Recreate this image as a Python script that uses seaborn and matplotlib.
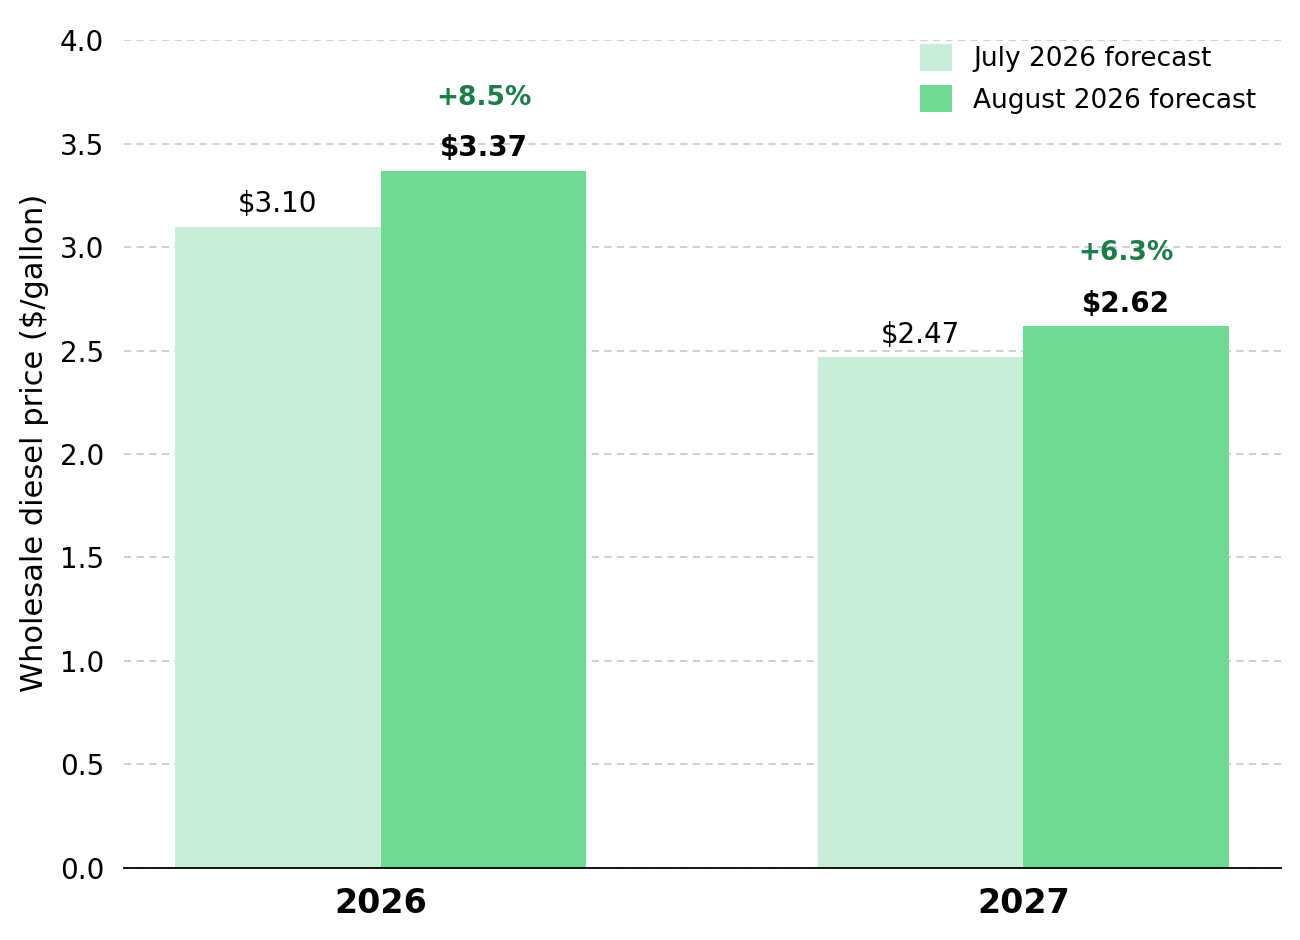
import pandas as pd
import numpy as np
import matplotlib
matplotlib.use("Agg")
import matplotlib.pyplot as plt
import seaborn as sns

# Forecast values
years = ["2026", "2027"]
july_forecast = [3.10, 2.47]
august_forecast = [3.37, 2.62]
series_names = ["July 2026 forecast", "August 2026 forecast"]
pct_change = ["+8.5%", "+6.3%"]

df = pd.DataFrame({
    "year": years * 2,
    "price": july_forecast + august_forecast,
    "forecast": [series_names[0]] * 2 + [series_names[1]] * 2,
})

sns.set_style("white")
plt.rcParams['font.family'] = ['DejaVu Sans']
plt.rcParams['text.color'] = 'black'
plt.rcParams['axes.labelcolor'] = 'black'
plt.rcParams['xtick.color'] = 'black'
plt.rcParams['ytick.color'] = 'black'

fig, ax = plt.subplots(figsize=(13, 9.4), dpi=100)
fig.subplots_adjust(left=0.095, right=0.985, top=0.957, bottom=0.077)

sns.barplot(data=df, x="year", y="price", hue="forecast", hue_order=series_names,
            palette=["#c8eed9", "#70d996"], width=0.64, saturation=1,
            linewidth=0, edgecolor="none", ax=ax, zorder=2)

# value labels
for i, cont in enumerate(ax.containers):
    for j, bar in enumerate(cont):
        h = bar.get_height()
        x = bar.get_x() + bar.get_width() / 2
        ax.text(x, h + 0.04, f"${h:.2f}", ha="center", va="bottom", fontsize=20,
                fontweight="bold" if i == 1 else "normal", color="black")
        if i == 1:
            ax.text(x, h + 0.29, pct_change[j], ha="center", va="bottom", fontsize=19,
                    fontweight="bold", color="#1e7b4a")

ax.set_ylim(0, 4.0)
ax.set_xlim(-0.4, 1.4)
ax.set_yticks(np.arange(0, 4.01, 0.5))
ax.yaxis.grid(True, linestyle=(0, (4, 3)), color="#cccccc", linewidth=1.3, zorder=0)
ax.set_axisbelow(True)
for s in ["top", "right", "left"]:
    ax.spines[s].set_visible(False)
ax.spines["bottom"].set_color("black")
ax.spines["bottom"].set_linewidth(1.3)

ax.set_xlabel("")
ax.set_ylabel("Wholesale diesel price ($/gallon)", fontsize=22)
ax.yaxis.set_label_coords(-0.064, 0.513)
ax.tick_params(axis="y", labelsize=20, length=0, pad=14)
ax.tick_params(axis="x", labelsize=24, length=0, pad=14)
for lbl in ax.get_xticklabels():
    lbl.set_fontweight("bold")

ax.legend(title=None, loc="upper right", bbox_to_anchor=(0.988, 1.009), fontsize=19,
          frameon=False, handlelength=1.2, handleheight=1.2, borderaxespad=0.0)

fig.savefig("out.png", dpi=100)
